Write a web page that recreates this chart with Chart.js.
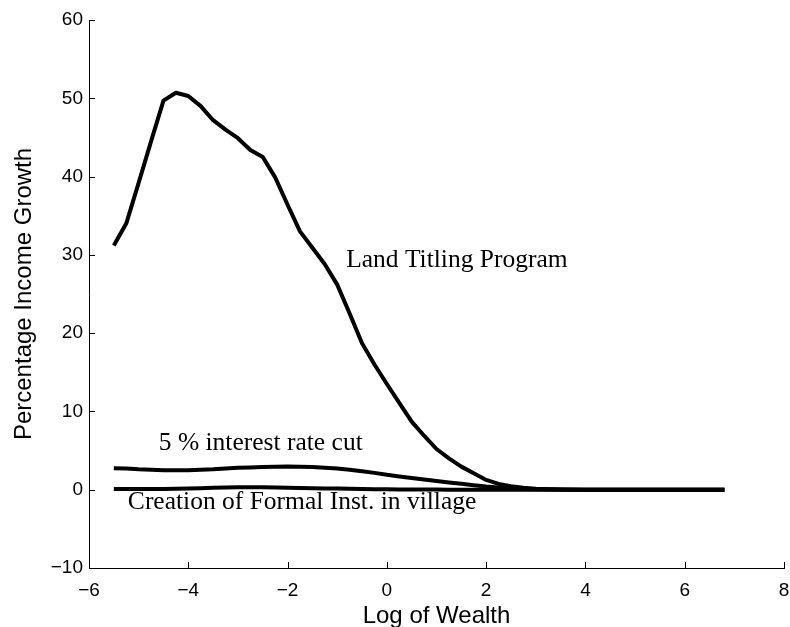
<!DOCTYPE html>
<html>
<head>
<meta charset="utf-8">
<script src="https://cdn.jsdelivr.net/npm/chart.js@4"></script>
<style>
html,body{margin:0;padding:0;background:#fff;overflow:hidden;}
#wrap{width:790px;height:627px;position:relative;}
canvas{display:block;}
</style>
</head>
<body>
<div id="wrap"><canvas id="c"></canvas></div>
<script>
// Log of wealth (x grid)
const logWealth = [-5.5,-5.25,-5.0,-4.75,-4.5,-4.25,-4.0,-3.75,-3.5,-3.25,-3.0,-2.75,-2.5,-2.25,-2.0,-1.75,-1.5,-1.25,-1.0,-0.75,-0.5,-0.25,0,0.25,0.5,0.75,1.0,1.25,1.5,1.75,2.0,2.25,2.5,2.75,3.0,3.5,4.0,5.0,6.0,6.8];
// Percentage income growth: Land Titling Program
const landTitling = [31.2,34.0,39.2,44.5,49.7,50.7,50.3,49.0,47.2,46.0,44.9,43.4,42.5,39.9,36.4,33.0,30.9,28.8,26.2,22.5,18.7,16.0,13.5,11.1,8.7,6.9,5.2,4.0,2.95,2.1,1.25,0.75,0.45,0.25,0.12,0.03,0,0,0,0];
// 5 % interest rate cut
const interestCut = [2.75,2.7,2.6,2.55,2.5,2.5,2.5,2.55,2.6,2.7,2.8,2.85,2.9,2.93,2.95,2.93,2.9,2.8,2.7,2.55,2.35,2.15,1.9,1.7,1.5,1.3,1.1,0.92,0.75,0.57,0.4,0.27,0.15,0.09,0.05,0.02,0,0,0,0];
// Creation of Formal Inst. in village
const formalInst = [0.1,0.1,0.1,0.1,0.1,0.12,0.15,0.2,0.25,0.28,0.3,0.3,0.3,0.28,0.25,0.22,0.2,0.17,0.15,0.12,0.1,0.07,0.05,0.04,0.03,0.02,0.02,0.01,0.01,0,0,0,0,0,0,0,0,0,0,0];

const xTicksMin = -6, xTicksMax = 8, xStep = 2;
const yTicksMin = -10, yTicksMax = 60, yStep = 10;

// Text labels (text, x in data units, y in data units)
const labelTexts = ["Land Titling Program", "5 % interest rate cut", "Creation of Formal Inst. in village"];
const labelX = [-0.82, -4.594, -5.217];
const labelY = [28.43, 5.01, -2.47];

function pts(ys){ return logWealth.map((x,i)=>({x:x,y:ys[i]})); }
const fmt = v => (v < 0 ? '\u2212' + Math.abs(v) : String(v));

const tickPlugin = {
  id: 'inwardTicks',
  afterDraw(chart){
    const ctx = chart.ctx;
    const xs = chart.scales.x, ys = chart.scales.y;
    const a = chart.chartArea;
    ctx.save();
    ctx.strokeStyle = '#000';
    ctx.lineWidth = 1;
    ctx.beginPath();
    xs.ticks.forEach(t => {
      const px = Math.round(xs.getPixelForValue(t.value)) + 0.5;
      ctx.moveTo(px, a.bottom); ctx.lineTo(px, a.bottom - 6);
    });
    ys.ticks.forEach(t => {
      const py = Math.round(ys.getPixelForValue(t.value)) + 0.5;
      ctx.moveTo(a.left, py); ctx.lineTo(a.left + 6, py);
    });
    ctx.stroke();
    ctx.restore();
  },
  afterDatasetsDraw(chart){
    const ctx = chart.ctx;
    const xs = chart.scales.x, ys = chart.scales.y;
    ctx.save();
    ctx.fillStyle = '#000';
    ctx.font = '25.5px "Liberation Serif", "Times New Roman", serif';
    ctx.textAlign = 'left';
    ctx.textBaseline = 'alphabetic';
    labelTexts.forEach((t,i) => {
      ctx.fillText(t, xs.getPixelForValue(labelX[i]), ys.getPixelForValue(labelY[i]));
    });
    ctx.restore();
  }
};

const lineStyle = {borderColor:'#000', borderWidth:4, pointRadius:0, tension:0, fill:false, borderJoinStyle:'round', borderCapStyle:'butt'};

new Chart(document.getElementById('c'), {
  type: 'line',
  data: {
    datasets: [
      Object.assign({label:'Land Titling Program', data: pts(landTitling)}, lineStyle),
      Object.assign({label:'5 % interest rate cut', data: pts(interestCut)}, lineStyle),
      Object.assign({label:'Creation of Formal Inst. in village', data: pts(formalInst)}, lineStyle)
    ]
  },
  options: {
    responsive: true,
    maintainAspectRatio: false,
    animation: false,
    devicePixelRatio: 1,
    layout: {padding: {top: 20, right: 6, left: 0, bottom: 0}},
    plugins: {legend: {display:false}, tooltip: {enabled:false}, title:{display:false}},
    scales: {
      x: {
        type: 'linear', min: xTicksMin, max: xTicksMax,
        afterFit(s){ s.height = 59; s.paddingLeft = 0; s.paddingRight = 0; },
        ticks: {stepSize: xStep, color:'#000', padding: 11, maxRotation:0, font:{family:'"Liberation Sans", Arial, sans-serif', size:19}, callback: fmt},
        grid: {drawOnChartArea:false, drawTicks:false},
        border: {display:true, color:'#000', width:1},
        title: {display:true, text:'Log of Wealth', color:'#000', padding:{top:0,bottom:-1}, font:{family:'"Liberation Sans", Arial, sans-serif', size:24, lineHeight:1}}
      },
      y: {
        type: 'linear', min: yTicksMin, max: yTicksMax,
        afterFit(s){ s.width = 89; s.paddingTop = 0; s.paddingBottom = 0; },
        ticks: {stepSize: yStep, color:'#000', padding: 6, font:{family:'"Liberation Sans", Arial, sans-serif', size:19}, callback: fmt},
        grid: {drawOnChartArea:false, drawTicks:false},
        border: {display:true, color:'#000', width:1},
        title: {display:true, text:'Percentage Income Growth', color:'#000', padding:{top:12,bottom:0}, font:{family:'"Liberation Sans", Arial, sans-serif', size:24, lineHeight:1}}
      }
    }
  },
  plugins: [tickPlugin]
});
</script>
</body>
</html>
